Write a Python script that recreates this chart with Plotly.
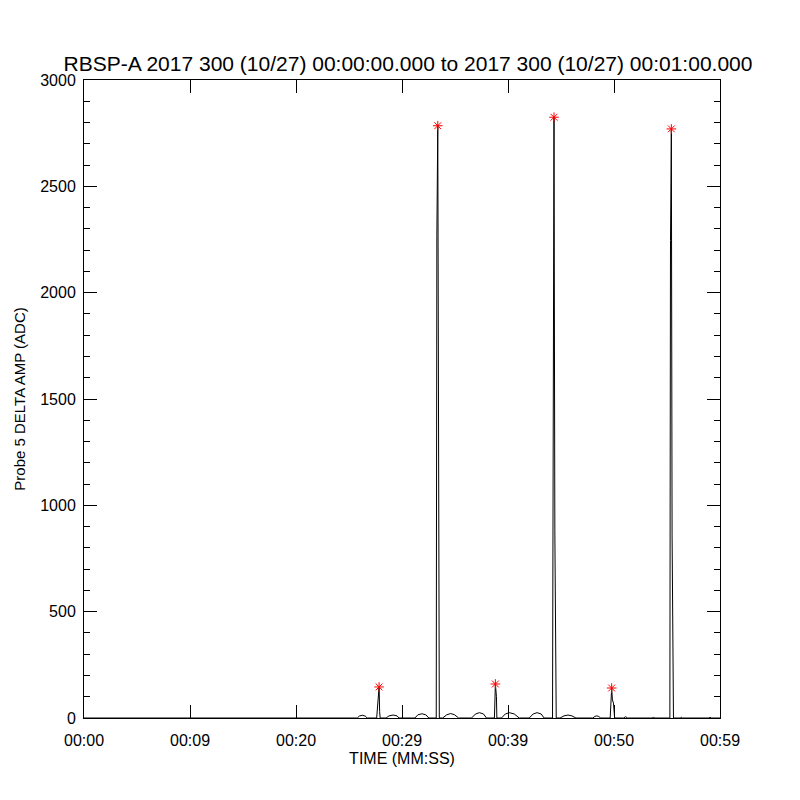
import plotly.graph_objects as go

# Waveform samples (seconds from 00:00:00, amplitude ADC)
time_s = [0.0, 25.78, 25.97, 26.25, 26.53, 26.72,
          27.61, 27.66, 27.84, 27.89, 27.94,
          28.50, 28.78, 29.16, 29.53, 29.72,
          31.22, 31.50, 31.875, 32.25, 32.53,
          33.23, 33.29, 33.375, 33.45, 33.52,
          33.84, 34.22, 34.59, 34.97, 35.34,
          36.56, 36.94, 37.31, 37.69, 37.97,
          38.72, 38.81, 38.91, 38.95,
          39.375, 39.75, 40.125, 40.59, 41.06,
          42.0, 42.375, 42.75, 43.125, 43.41,
          44.20, 44.27, 44.34, 44.42, 44.48, 44.55,
          44.91, 45.28, 45.66, 46.03, 46.41,
          48.0, 48.19, 48.375, 48.56, 48.75,
          49.64, 49.69, 49.78, 49.85, 49.95, 50.06,
          50.91, 51.09, 51.28,
          53.625, 53.72, 53.81,
          55.27, 55.33, 55.41, 55.48, 55.55, 55.61,
          56.25, 56.34, 56.44,
          58.97, 59.06, 59.16, 60.0]
amp_adc = [0, 0, 9, 13, 9, 0,
           0, 45, 146, 30, 0,
           0, 10, 14, 10, 0,
           0, 15, 20, 15, 0,
           0, 2270, 2785, 1520, 0,
           0, 15, 21, 15, 0,
           0, 19, 25, 19, 0,
           0, 160, 100, 0,
           0, 19, 25, 19, 0,
           0, 19, 25, 19, 0,
           0, 1550, 2825, 880, 130, 0,
           0, 10, 14, 10, 0,
           0, 7, 10, 7, 0,
           0, 42, 141, 85, 70, 0,
           0, 6, 0,
           0, 5, 0,
           0, 2245, 2770, 860, 130, 0,
           0, 4, 0,
           0, 4, 0, 0]

# Detected peaks (red asterisks)
peak_t = [27.84, 33.375, 38.81, 44.34, 49.78, 55.41]
peak_v = [146, 2785, 160, 2825, 141, 2770]

x_tickvals = [0, 10, 20, 30, 40, 50, 60]
x_ticktext = ["00:00", "00:09", "00:20", "00:29", "00:39", "00:50", "00:59"]
y_tickvals = [0, 500, 1000, 1500, 2000, 2500, 3000]

FONT = "Liberation Sans"

fig = go.Figure()
fig.add_trace(go.Scatter(x=time_s, y=amp_adc, mode="lines",
                         line=dict(color="black", width=1),
                         hoverinfo="skip", showlegend=False))
fig.add_trace(go.Scatter(x=peak_t, y=peak_v, mode="markers",
                         marker=dict(symbol="asterisk-open", size=8,
                                     color="red", line=dict(color="red", width=1)),
                         showlegend=False))

fig.update_layout(
    width=800, height=800,
    paper_bgcolor="white", plot_bgcolor="white",
    margin=dict(l=72, r=88, t=72, b=90),
    font=dict(family=FONT, color="black", size=16),
    title=dict(text="RBSP-A 2017 300 (10/27) 00:00:00.000 to 2017 300 (10/27) 00:01:00.000",
               x=0.5, xanchor="center", y=1 - 56 / 800, yanchor="middle",
               font=dict(family=FONT, size=21, color="black")),
    xaxis=dict(range=[0, 60], tickvals=x_tickvals, ticktext=x_ticktext,
               ticks="inside", ticklen=13, tickcolor="black",
               showline=True, linecolor="black", linewidth=1, mirror="ticks",
               showgrid=False, zeroline=False, ticklabelstandoff=8,
               tickfont=dict(size=16),
               title=dict(text="TIME (MM:SS)", font=dict(size=16), standoff=4)),
    yaxis=dict(range=[0, 3000], tickvals=y_tickvals,
               ticks="inside", ticklen=13, tickcolor="black",
               minor=dict(ticks="inside", ticklen=6, dtick=100, tickcolor="black", showgrid=False),
               showline=True, linecolor="black", linewidth=1, mirror="ticks",
               showgrid=False, zeroline=False, ticklabelstandoff=4,
               tickfont=dict(size=16),
               title=dict(text="Probe 5 DELTA AMP (ADC)", font=dict(size=15), standoff=10)),
)

fig.write_html("out.html")
